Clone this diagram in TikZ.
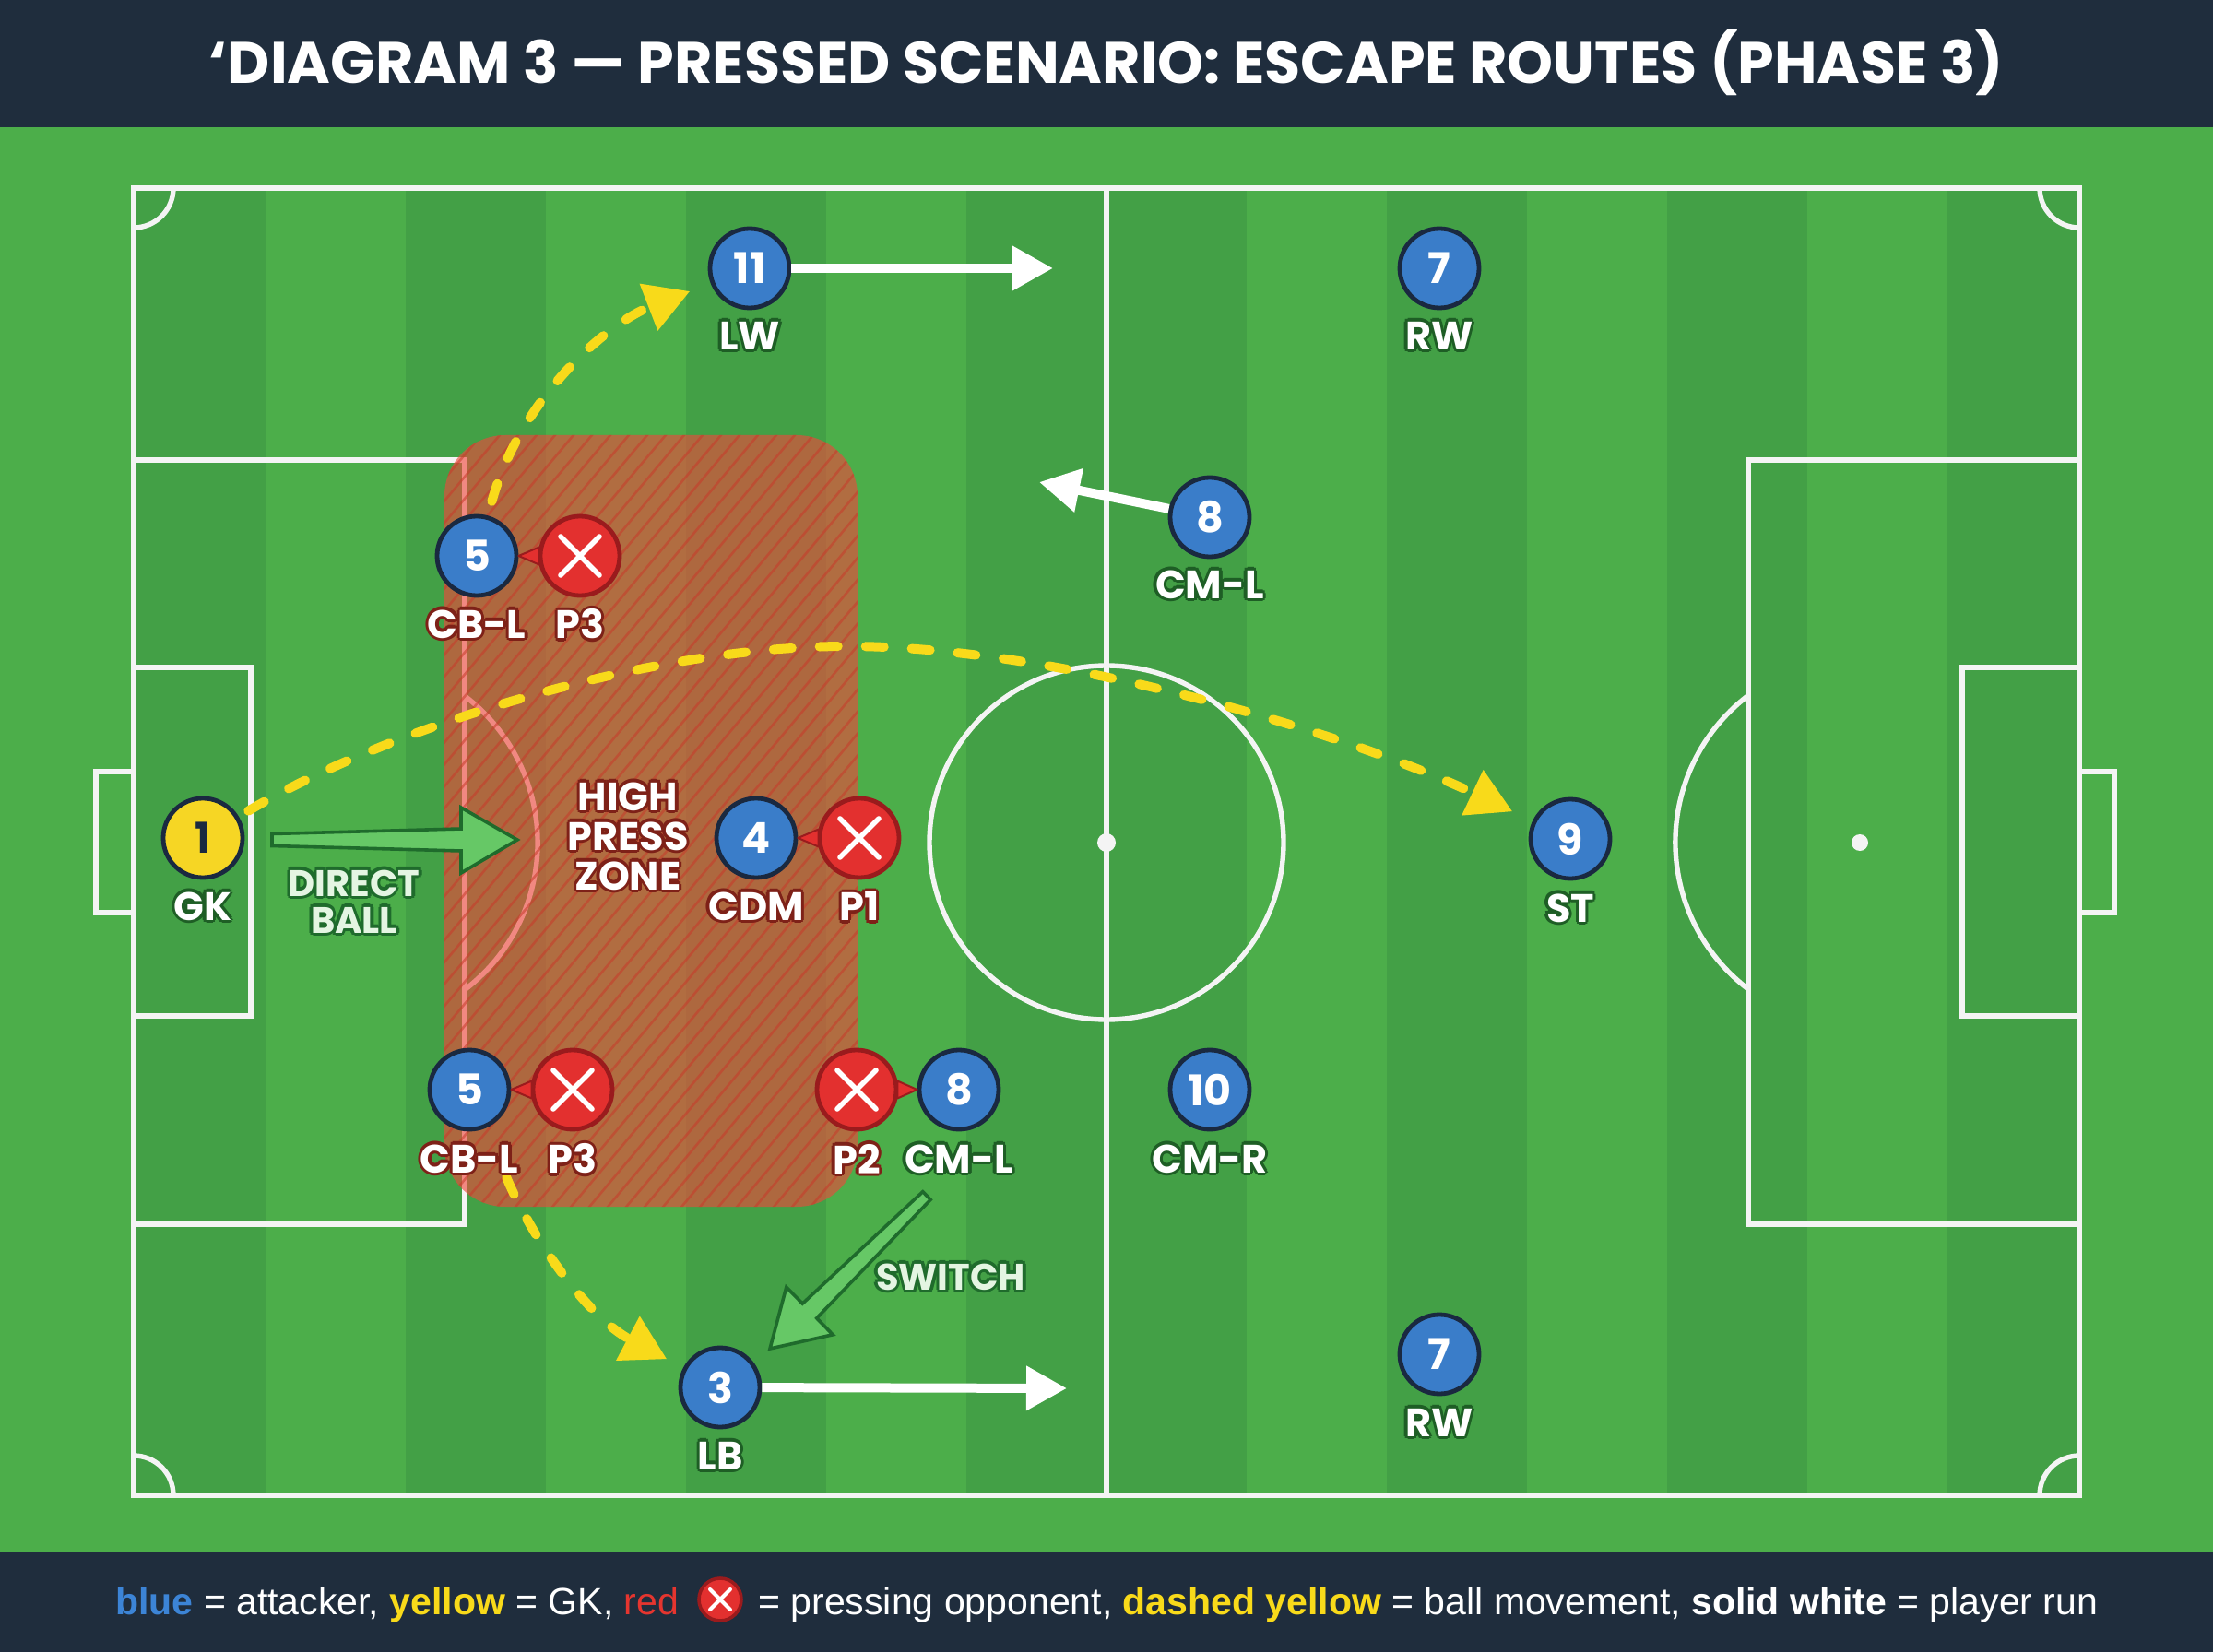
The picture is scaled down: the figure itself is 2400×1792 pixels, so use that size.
\documentclass[tikz,border=0pt]{standalone}
\usepackage{fontspec}
\setmainfont{Liberation Sans}
\newfontfamily\pop{Poppins}
\usetikzlibrary{calc,arrows.meta}

\definecolor{barbg}{HTML}{1F2D3D}
\definecolor{grass}{HTML}{4CAE4A}
\definecolor{grassdk}{HTML}{43A046}
\definecolor{linec}{HTML}{F4F4F4}
\definecolor{pblue}{HTML}{3A7DC9}
\definecolor{pbluedk}{HTML}{1A2940}
\definecolor{pred}{HTML}{E3302F}
\definecolor{preddk}{HTML}{9A1B1D}
\definecolor{gkyel}{HTML}{F6D624}
\definecolor{ballyel}{HTML}{F8DA1A}
\definecolor{zonec}{HTML}{F0463C}
\definecolor{hatchc}{HTML}{C83A2A}
\definecolor{olgreen}{HTML}{1E5E25}
\definecolor{olred}{HTML}{7E2118}
\definecolor{arrgreen}{HTML}{66C866}
\definecolor{arrgreendk}{HTML}{1F6B2C}
\definecolor{paletext}{HTML}{E4F5E2}
\definecolor{legblue}{HTML}{3C84D6}
\definecolor{legred}{HTML}{E5352F}

\tikzset{
  pline/.style={draw=linec, line width=2.7pt},
  player/.style={circle, minimum size=43pt, inner sep=0pt, line width=2.4pt,
    font=\pop\bfseries\fontsize{23}{23}\selectfont},
  att/.style={player, fill=pblue, draw=pbluedk, text=white},
  gkp/.style={player, fill=gkyel, draw=pbluedk, text=pbluedk},
  opp/.style={player, fill=pred, draw=preddk, path picture={
    \draw[white, line width=2.8pt, line cap=round]
      ([shift={(-10.5pt,-10.5pt)}]path picture bounding box.center) --
      ([shift={(10.5pt,10.5pt)}]path picture bounding box.center);
    \draw[white, line width=2.8pt, line cap=round]
      ([shift={(-10.5pt,10.5pt)}]path picture bounding box.center) --
      ([shift={(10.5pt,-10.5pt)}]path picture bounding box.center);}},
  legx/.style={circle, minimum size=23pt, inner sep=0pt, line width=1.8pt,
    fill=pred, draw=preddk, path picture={
    \draw[white, line width=2pt, line cap=round]
      ([shift={(-5.5pt,-5.5pt)}]path picture bounding box.center) --
      ([shift={(5.5pt,5.5pt)}]path picture bounding box.center);
    \draw[white, line width=2pt, line cap=round]
      ([shift={(-5.5pt,5.5pt)}]path picture bounding box.center) --
      ([shift={(5.5pt,-5.5pt)}]path picture bounding box.center);}},
  lbl/.style={inner sep=0pt, align=center, font=\pop\bfseries\fontsize{21.5}{21.5}\selectfont},
  zlbl/.style={inner sep=0pt, align=center, font=\pop\bfseries\fontsize{21.5}{21.5}\selectfont},
  glbl/.style={inner sep=0pt, align=center, font=\pop\bfseries\fontsize{20}{20}\selectfont},
  ball/.style={draw=ballyel, line width=5pt, line cap=round, dash pattern=on 10pt off 15pt,
    -{Triangle[length=24pt,width=26pt]}},
  run/.style={draw=white, line width=5pt, -{Triangle[length=22pt,width=23pt]}},
  ptr/.style={fill=pred, draw=preddk, line width=1pt, line join=round},
  blockarrow/.style={fill=arrgreen, draw=arrgreendk, line width=1.8pt, line join=miter},
}

% outlined text: name, position, outline colour, text colour, style, text
\newcommand\otext[6]{%
  \foreach \oa in {0,45,...,315}{\node[#5, text=#3] at ($#2+(\oa:1.7pt)$) {#6};}
  \node[#5, text=#4] (#1) at #2 {#6};}

\begin{document}
\begin{tikzpicture}[x=0.5pt, y=-0.5pt]
\useasboundingbox (0,0) rectangle (2400,1792);
% bars and grass
\fill[grass] (0,0) rectangle (2400,1792);
\fill[barbg] (0,0) rectangle (2400,138);
\fill[barbg] (0,1684) rectangle (2400,1792);
% stripes
\foreach \a/\b in {145/288, 440/592, 744/896, 1048/1352, 1504/1656, 1808/1960, 2112/2255}
  \fill[grassdk] (\a,204) rectangle (\b,1622);

% pitch lines
\draw[pline] (145,204) rectangle (2255,1622);
\draw[pline] (1200,204) -- (1200,1622);
\draw[pline] (1200,914) circle[radius=192];
\fill[linec] (1200,914) circle[radius=10];
\draw[pline] (145,499) rectangle (504,1328);
\draw[pline] (145,724) rectangle (272,1102);
\draw[pline] (145,837) rectangle (104,990);
\draw[pline] (504,755) arc[start angle=-52.8, end angle=52.8, radius=200];
\draw[pline] (2255,499) rectangle (1896,1328);
\draw[pline] (2255,724) rectangle (2128,1102);
\draw[pline] (2255,837) rectangle (2293,990);
\draw[pline] (1896,1073) arc[start angle=127.2, end angle=232.8, radius=200];
\fill[linec] (2017,914) circle[radius=9];
\draw[pline] (188,204) arc[start angle=0, end angle=90, radius=43];
\draw[pline] (2212,204) arc[start angle=180, end angle=90, radius=43];
\draw[pline] (188,1622) arc[start angle=0, end angle=-90, radius=43];
\draw[pline] (2212,1622) arc[start angle=180, end angle=270, radius=43];

% high press zone
\fill[zonec, fill opacity=0.62, rounded corners=33pt] (482,472) rectangle (930,1309);
\begin{scope}
  \clip[rounded corners=33pt] (482,472) rectangle (930,1309);
  \foreach \k in {0,...,62}
    \draw[hatchc, line width=1.3pt, opacity=0.55] ({-270+20*\k},1320) -- ++(727,-866);
\end{scope}

% players
\node[att] (lw) at (813,291) {11};
\node[att] (rw1) at (1561,291) {7};
\node[att] (cml1) at (1312,561) {8};
\node[att] (cbl1) at (517,603) {5};
\node[opp] (p3a) at (629,603) {};
\node[gkp] (gk) at (220,909) {1};
\node[att] (cdm) at (820,909) {4};
\node[opp] (p1) at (932,909) {};
\node[att] (st) at (1703,910) {9};
\node[att] (cbl2) at (509,1182) {5};
\node[opp] (p3b) at (621,1182) {};
\node[opp] (p2) at (929,1182) {};
\node[att] (cml2) at (1040,1182) {8};
\node[att] (cmr) at (1312,1182) {10};
\node[att] (lb) at (781,1505) {3};
\node[att] (rw2) at (1561,1469) {7};

% pressing pointers
\draw[ptr] (cbl1.east) -- (p3a.168) -- (p3a.192) -- cycle;
\draw[ptr] (cdm.east) -- (p1.168) -- (p1.192) -- cycle;
\draw[ptr] (cbl2.east) -- (p3b.168) -- (p3b.192) -- cycle;
\draw[ptr] (cml2.west) -- (p2.12) -- (p2.-12) -- cycle;

% ball movement (under the labels)
\coordinate (arcmid) at (918,701);
\draw[ball, shorten <=8pt, shorten >=12pt] (cbl1) .. controls (565,430) and (660,350) .. (lw);
\draw[ball, shorten <=6pt, shorten >=12pt] (gk) .. controls (420,790) and (700,701) .. (arcmid)
   .. controls (1150,701) and (1460,795) .. (st);
\draw[ball, shorten <=29pt, shorten >=10pt] (cbl2) .. controls (580,1350) and (640,1430) .. (lb);

% labels
\otext{lwl}{(813,364)}{olgreen}{white}{lbl}{LW}
\otext{rw1l}{(1561,364)}{olgreen}{white}{lbl}{RW}
\otext{cml1l}{(1312,634)}{olgreen}{white}{lbl}{CM-L}
\otext{cbl1l}{(517,677)}{olred}{white}{lbl}{CB-L}
\otext{p3al}{(629,677)}{olred}{white}{lbl}{P3}
\otext{gkl}{(220,983)}{olgreen}{white}{lbl}{GK}
\otext{cdml}{(820,983)}{olred}{white}{lbl}{CDM}
\otext{p1l}{(932,983)}{olred}{white}{lbl}{P1}
\otext{stl}{(1703,985)}{olgreen}{white}{lbl}{ST}
\otext{cbl2l}{(509,1257)}{olred}{white}{lbl}{CB-L}
\otext{p3bl}{(621,1257)}{olred}{white}{lbl}{P3}
\otext{p2l}{(929,1257)}{olred}{white}{lbl}{P2}
\otext{cml2l}{(1040,1257)}{olgreen}{white}{lbl}{CM-L}
\otext{cmrl}{(1312,1257)}{olgreen}{white}{lbl}{CM-R}
\otext{lbt}{(781,1579)}{olgreen}{white}{lbl}{LB}
\otext{rw2l}{(1561,1543)}{olgreen}{white}{lbl}{RW}
\otext{hpz}{(681,907)}{olred}{white}{zlbl}{HIGH\\PRESS\\ZONE}
\otext{dbl}{(384,978)}{arrgreendk}{paletext}{glbl}{DIRECT\\BALL}
\otext{swl}{(1031,1385)}{arrgreendk}{paletext}{glbl}{SWITCH}

% green block arrows
\draw[blockarrow] (295,904.5) -- (500,899) -- (500,876) -- (561,911) -- (500,947) -- (500,923) -- (295,917.5) -- cycle;
\draw[blockarrow] (1000.8,1292.7) -- (870.3,1414.1) -- (852.8,1396.2) -- (835,1463) -- (903.2,1447.8) -- (885.7,1429.9) -- (1009.2,1301.3) -- cycle;

% player runs
\coordinate (lwrun) at (1142,291);
\coordinate (cmlrun) at (1127,523);
\coordinate (lbrun) at (1157,1506);
\draw[run] (lw) -- (lwrun);
\draw[run] (cml1) -- (cmlrun);
\draw[run] (lb) -- (lbrun);

% title
\node[text=white, inner sep=0pt] (title) at (1200,68)
  {\resizebox{973pt}{!}{\pop\bfseries\fontsize{31}{31}\selectfont ‘DIAGRAM 3 — PRESSED SCENARIO: ESCAPE ROUTES (PHASE 3)}};

% legend
\node[anchor=base west, text=white, inner sep=0pt, font=\fontsize{20.5}{20.5}\selectfont] (leg1) at (125,1751)
  {\textcolor{legblue}{\bfseries blue} = attacker, \textcolor{ballyel}{\bfseries yellow} = GK, \textcolor{legred}{red}};
\node[legx] (legx) at (781,1735) {};
\node[anchor=base west, text=white, inner sep=0pt, font=\fontsize{20.5}{20.5}\selectfont] (leg2) at (822,1751)
  {= pressing opponent, \textcolor{ballyel}{\bfseries dashed yellow} = ball movement, {\bfseries solid white} = player run};
\end{tikzpicture}
\end{document}
